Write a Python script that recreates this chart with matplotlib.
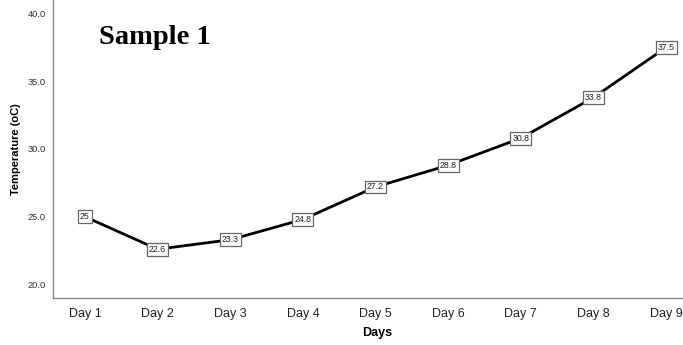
import matplotlib
matplotlib.use("Agg")
import matplotlib.pyplot as plt

days = ["Day 1", "Day 2", "Day 3", "Day 4", "Day 5", "Day 6", "Day 7", "Day 8", "Day 9"]
temps = [25.0, 22.6, 23.3, 24.8, 27.2, 28.8, 30.8, 33.8, 37.5]
value_labels = ["25", "22.6", "23.3", "24.8", "27.2", "28.8", "30.8", "33.8", "37.5"]
y_ticks = [20.0, 25.0, 30.0, 35.0, 40.0]

plt.rcParams["font.family"] = ["Liberation Sans", "DejaVu Sans"]

fig = plt.figure(figsize=(6.83, 3.45), dpi=100)
ax = fig.add_axes([53 / 683, 1 - 298 / 345, (701 - 53) / 683, 298 / 345])

x = list(range(len(days)))
ax.plot(x, temps, color="black", linewidth=2.0, zorder=2)

for xi, yi, lab in zip(x, temps, value_labels):
    ax.text(xi, yi, lab, ha="center", va="center", fontsize=6.3, color="#222222",
            bbox=dict(boxstyle="square,pad=0.22", facecolor="white",
                      edgecolor="#666666", linewidth=0.9), zorder=3)

ax.set_xlim(-0.44, 8.48)
ax.set_ylim(19.0, 41.0)
ax.set_xticks(x)
ax.set_xticklabels(days, fontsize=9, color="#222222")
ax.set_yticks(y_ticks)
ax.set_yticklabels([f"{v:.1f}" for v in y_ticks], fontsize=6.7, color="#333333")
ax.tick_params(axis="both", length=0)
ax.tick_params(axis="x", pad=7)
ax.tick_params(axis="y", pad=5)

for side in ["top", "right"]:
    ax.spines[side].set_visible(False)
for side in ["left", "bottom"]:
    ax.spines[side].set_color("#888888")
    ax.spines[side].set_linewidth(1.0)

ax.set_xlabel("Days", fontsize=9, fontweight="bold", labelpad=5)
ax.set_ylabel("Temperature (oC)", fontsize=8, fontweight="bold", labelpad=5)

ax.text(0.2, 38.25, "Sample 1", family=["Liberation Serif", "DejaVu Serif"],
        fontsize=20.5, fontweight="bold", ha="left", va="center")

fig.savefig("out.png", dpi=100)
